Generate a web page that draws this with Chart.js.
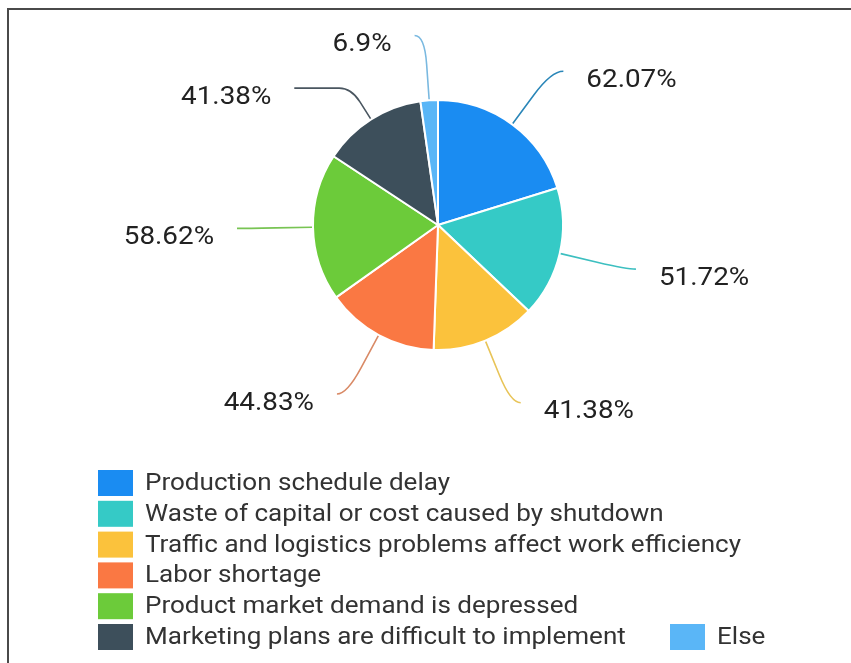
<!DOCTYPE html>
<html>
<head>
<meta charset="utf-8">
<script src="https://cdn.jsdelivr.net/npm/chart.js@4/dist/chart.umd.min.js"></script>
<style>
  html, body { margin: 0; padding: 0; background: #fff; }
  #wrap { position: relative; width: 851px; height: 663px; }
  #frame {
    position: absolute; left: 7px; top: 8px; right: 0; bottom: 0;
    border-top: 2px solid #4a4a4a; border-left: 2px solid #4a4a4a;
  }
  canvas { position: absolute; left: 0; top: 0; }
</style>
</head>
<body>
<div id="wrap">
  <div id="frame"></div>
  <canvas id="myChart" width="851" height="663"></canvas>
</div>
<script>
// data
const categories = [
    'Production schedule delay',
    'Waste of capital or cost caused by shutdown',
    'Traffic and logistics problems affect work efficiency',
    'Labor shortage',
    'Product market demand is depressed',
    'Marketing plans are difficult to implement',
    'Else'
]
const shares = [62.07, 51.72, 41.38, 44.83, 58.62, 41.38, 6.9]

const colors = ['#1a8cf2', '#35cac6', '#fbc23c', '#fa7843', '#6ccb3a', '#3d4f5b', '#5ab6f7']
const lineColors = ['#2a86b8', '#3cbfc0', '#e8c458', '#d98a66', '#78c453', '#4a5660', '#7ab9e0']

// leader line: radial length past the rim, then horizontal tail
const lineLength = [66, 69, 67, 67, 67, 37, 65]
const lineTail = [12, 9, 10, 10, 9, 57, 10]

const ctx = document.getElementById('myChart').getContext('2d');

// text drawn slightly widened, the glyphs run wide in this layout
const wideText = (c, text, x, y, stretch) => {
    c.save();
    c.translate(x, y);
    c.scale(stretch, 1);
    c.fillText(text, 0, 0);
    c.restore();
}

const pieLabels = {
    id: 'pieLabels',
    afterDatasetsDraw(chart) {
        const c = chart.ctx;
        const meta = chart.getDatasetMeta(0);
        c.save();
        meta.data.forEach((arc, i) => {
            const { x, y, startAngle, endAngle, outerRadius } = arc.getProps(['x', 'y', 'startAngle', 'endAngle', 'outerRadius'], true);
            const mid = (startAngle + endAngle) / 2;
            const cos = Math.cos(mid), sin = Math.sin(mid);
            const dir = cos >= 0 ? 1 : -1;
            const r0 = outerRadius + 1;
            const r1 = outerRadius + lineLength[i];
            const sx = x + cos * r0, sy = y + sin * r0;
            const cx = x + cos * r1, cy = y + sin * r1;
            const ex = cx + dir * lineTail[i], ey = cy;
            const bend = Math.min(lineTail[i], 12);
            const px = sx + (cx - sx) * 0.55, py = sy + (cy - sy) * 0.55;

            c.beginPath();
            c.moveTo(sx, sy);
            c.lineTo(px, py);
            c.quadraticCurveTo(cx, cy, cx + dir * bend, cy);
            c.lineTo(ex, ey);
            c.strokeStyle = lineColors[i];
            c.lineWidth = 1.6;
            c.stroke();

            c.fillStyle = '#222';
            c.font = '26.5px Roboto';
            c.textBaseline = 'middle';
            c.textAlign = dir > 0 ? 'left' : 'right';
            wideText(c, shares[i] + '%', ex + dir * 23, ey + 9, 1.05);
        });
        c.restore();
    }
}

const sideLegend = {
    id: 'sideLegend',
    afterDraw(chart) {
        const c = chart.ctx;
        c.save();
        c.font = '24px Roboto';
        c.textBaseline = 'middle';
        c.textAlign = 'left';
        categories.forEach((name, i) => {
            // last entry sits to the right of the final row
            const row = i < 6 ? i : 5;
            const bx = i < 6 ? 98 : 670;
            const cy = 483 + row * 30.8;
            c.fillStyle = colors[i];
            c.fillRect(bx, cy - 13, 35, 26);
            c.fillStyle = '#333';
            wideText(c, name, bx + 47, cy + 1, 1.085);
        });
        c.restore();
    }
}

// config
const config = {
    type: 'pie',
    data: {
        labels: categories,
        datasets: [{
            data: shares,
            backgroundColor: colors,
            borderColor: '#fff',
            borderWidth: 2
        }]
    },
    options: {
        responsive: false,
        animation: false,
        layout: { padding: { top: 99, bottom: 312, left: 312, right: 287 } },
        plugins: {
            legend: { display: false },
            tooltip: { enabled: false }
        }
    },
    plugins: [pieLabels, sideLegend]
};

const chart = new Chart(ctx, config);
</script>
</body>
</html>
